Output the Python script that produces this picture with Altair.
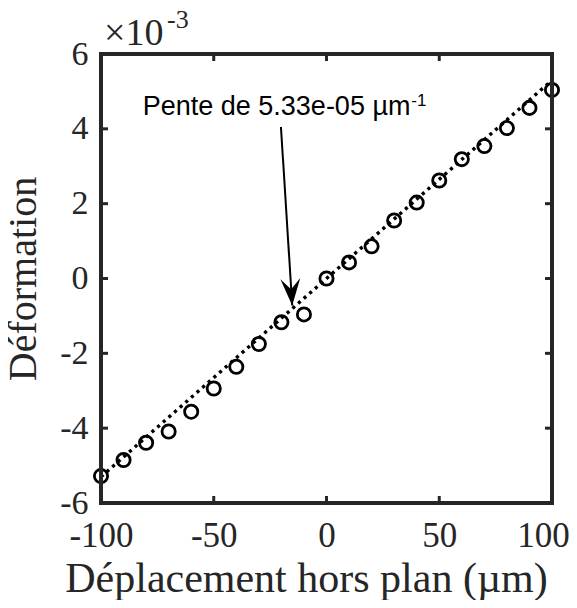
import altair as alt
import pandas as pd

# ---- data ----
deplacement = [-100, -90, -80, -70, -60, -50, -40, -30, -20, -10, 0,
               10, 20, 30, 40, 50, 60, 70, 80, 90, 100]
deformation_e3 = [-5.28, -4.85, -4.39, -4.09, -3.56, -2.94, -2.36, -1.75, -1.17, -0.96, 0.00,
                  0.43, 0.86, 1.55, 2.03, 2.62, 3.19, 3.54, 4.02, 4.56, 5.04]
fit_x = [-100, 100]
fit_y_e3 = [-5.30, 5.30]
x_ticks = [-100, -50, 0, 50, 100]
y_ticks_e3 = [-6, -4, -2, 0, 2, 4, 6]
arrow_x = [-20.2, -15.2]
arrow_y_e3 = [4.05, -0.72]
note_text = "Pente de 5.33e-05 µm"
note_sup = "-1"
note_pos = (-81.5, 4.36)
note_sup_pos = (37.6, 4.60)

W, H = 451, 449
SERIF = "Liberation Serif"
SANS = "Liberation Sans"
AX = "#262626"

pts = pd.DataFrame({"x": deplacement, "y": [v * 1e-3 for v in deformation_e3]})
fit = pd.DataFrame({"x": fit_x, "y": [v * 1e-3 for v in fit_y_e3]})
xt = pd.DataFrame({"x": x_ticks})
yt = pd.DataFrame({"y": [v * 1e-3 for v in y_ticks_e3]})
arr = pd.DataFrame({"x": arrow_x, "y": [v * 1e-3 for v in arrow_y_e3], "o": [0, 1]})
tip = arr.iloc[[1]]
one = pd.DataFrame({"a": [0]})

xs = alt.Scale(domain=[-100, 100], nice=False, zero=False)
ys = alt.Scale(domain=[-0.006, 0.006], nice=False, zero=False)

xaxis = alt.Axis(values=x_ticks, domain=False, ticks=False, grid=False,
                 labelFont=SERIF, labelFontSize=35, labelColor=AX, labelPadding=15,
                 labelExpr="(datum.value<0?'-':'') + abs(datum.value)",
                 labelOffset={"condition": {"test": "datum.value == 100", "value": -9},
                              "value": 0},
                 labelFlush=False, labelOverlap=False,
                 title="Déplacement hors plan (µm)", titleFont=SERIF, titleFontSize=42,
                 titleFontWeight="normal", titleColor=AX, titleX=205, titleY=88,
                 titleBaseline="alphabetic")
yaxis = alt.Axis(values=[v * 1e-3 for v in y_ticks_e3], domain=False, ticks=False, grid=False,
                 labelFont=SERIF, labelFontSize=34, labelColor=AX, labelPadding=13,
                 labelExpr="(datum.value<0?'-':'') + abs(round(datum.value*1000))",
                 labelFlush=False, labelOverlap=False,
                 title="Déformation", titleFont=SERIF, titleFontSize=40,
                 titleFontWeight="normal", titleColor=AX, titleX=-78, titleY=H / 2,
                 titleAngle=270, titleBaseline="middle", titleAlign="center")

base_pts = alt.Chart(pts).mark_point(shape="circle", filled=False, color="black",
                                     strokeWidth=2.8, size=175, opacity=1).encode(
    x=alt.X("x:Q", scale=xs, axis=xaxis),
    y=alt.Y("y:Q", scale=ys, axis=yaxis),
)

line = alt.Chart(fit).mark_line(color="black", strokeWidth=3.4, strokeDash=[3.2, 4.3],
                                strokeCap="butt").encode(
    x=alt.X("x:Q", scale=xs), y=alt.Y("y:Q", scale=ys))

frame = alt.Chart(one).mark_rect(filled=False, stroke=AX, strokeWidth=4).encode(
    x=alt.value(0), x2=alt.value(W), y=alt.value(0), y2=alt.value(H))

tick_len = 7
top_t = alt.Chart(xt).mark_rule(color=AX, strokeWidth=3).encode(
    x=alt.X("x:Q", scale=xs), y=alt.value(0), y2=alt.value(tick_len))
bot_t = alt.Chart(xt).mark_rule(color=AX, strokeWidth=3).encode(
    x=alt.X("x:Q", scale=xs), y=alt.value(H), y2=alt.value(H - tick_len))
left_t = alt.Chart(yt).mark_rule(color=AX, strokeWidth=3).encode(
    y=alt.Y("y:Q", scale=ys), x=alt.value(0), x2=alt.value(tick_len))
right_t = alt.Chart(yt).mark_rule(color=AX, strokeWidth=3).encode(
    y=alt.Y("y:Q", scale=ys), x=alt.value(W), x2=alt.value(W - tick_len))

arrow_line = alt.Chart(arr).mark_line(color="black", strokeWidth=2).encode(
    x=alt.X("x:Q", scale=xs), y=alt.Y("y:Q", scale=ys), order="o:Q")
arrow_head = alt.Chart(tip).mark_point(
    shape="M0,0 L-0.37,-1 L0,-0.6 L0.37,-1 Z", filled=True, color="black",
    size=2900, angle=356, opacity=1).encode(
    x=alt.X("x:Q", scale=xs), y=alt.Y("y:Q", scale=ys))

note = alt.Chart(one).mark_text(text=note_text, font=SANS, fontSize=27, color="black",
                                align="left", baseline="alphabetic").encode(
    x=alt.datum(note_pos[0], scale=xs), y=alt.datum(note_pos[1] * 1e-3, scale=ys))
note2 = alt.Chart(one).mark_text(text=note_sup, font=SANS, fontSize=17, color="black",
                                 align="left", baseline="alphabetic").encode(
    x=alt.datum(note_sup_pos[0], scale=xs), y=alt.datum(note_sup_pos[1] * 1e-3, scale=ys))

exp1 = alt.Chart(one).mark_text(text="×10", font=SERIF, fontSize=38, color=AX,
                                align="left", baseline="alphabetic").encode(
    x=alt.value(3), y=alt.value(-9))
exp2 = alt.Chart(one).mark_text(text="-3", font=SERIF, fontSize=26, color=AX,
                                align="left", baseline="alphabetic").encode(
    x=alt.value(66), y=alt.value(-26))

chart = alt.layer(line, base_pts, frame, top_t, bot_t, left_t, right_t,
                  arrow_line, arrow_head, note, note2, exp1, exp2).properties(
    width=W, height=H,
    autosize=alt.AutoSizeParams(type="none"),
    padding={"left": 93, "top": 46, "right": 17, "bottom": 97},
).configure_view(stroke=None).configure(background="white")

chart.save("out.html", embed_options={"renderer": "svg", "actions": False})
